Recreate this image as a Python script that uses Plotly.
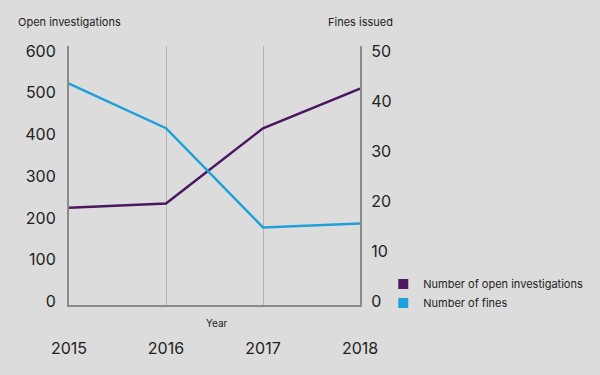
import plotly.graph_objects as go

years = [2015, 2016, 2017, 2018]
open_investigations = [225, 235, 415, 510]
fines_issued = [43.5, 34.6, 14.8, 15.6]
left_ticks = [0, 100, 200, 300, 400, 500, 600]
right_ticks = [0, 10, 20, 30, 40, 50]

PURPLE = "#4b1760"
BLUE = "#1ea0d8"
BG = "#dcdcdc"
AXIS = "#8a8a8a"
GRID = "#b4b4b4"
TXT = "#222222"
FONT = "Inter"

fig = go.Figure()
fig.add_trace(go.Scatter(x=years, y=open_investigations, mode="lines",
                         line=dict(color=PURPLE, width=2.5), showlegend=False, yaxis="y"))
fig.add_trace(go.Scatter(x=years, y=fines_issued, mode="lines",
                         line=dict(color=BLUE, width=2.5), showlegend=False, yaxis="y2"))
fig.add_trace(go.Scatter(x=[None], y=[None], mode="markers", name="Number of open investigations",
                         marker=dict(symbol="square", size=10, color=PURPLE)))
fig.add_trace(go.Scatter(x=[None], y=[None], mode="markers", name="Number of fines",
                         marker=dict(symbol="square", size=10, color=BLUE)))

fig.update_layout(
    width=600, height=375,
    margin=dict(l=69, r=240, t=46, b=70),
    paper_bgcolor=BG, plot_bgcolor=BG,
    font=dict(family=FONT, color=TXT),
    xaxis=dict(range=[2015, 2018], tickvals=years, ticktext=[str(y) for y in years],
               showgrid=True, gridcolor=GRID, gridwidth=1, zeroline=False,
               showline=True, linecolor=AXIS, linewidth=2, ticks="",
               tickfont=dict(size=16, color=TXT), ticklabelstandoff=28),
    yaxis=dict(range=[-8, 612], tickvals=left_ticks, showgrid=False, zeroline=False,
               showline=True, linecolor=AXIS, linewidth=2, ticks="",
               tickfont=dict(size=16, color=TXT), ticklabelstandoff=8),
    yaxis2=dict(range=[-8 / 12, 51], tickvals=right_ticks, overlaying="y", side="right",
                showgrid=False, zeroline=False, showline=True, linecolor=AXIS, linewidth=2,
                ticks="", tickfont=dict(size=16, color=TXT), ticklabelstandoff=6),
    legend=dict(x=1.08, y=0.137, xanchor="left", yanchor="top", bgcolor="rgba(0,0,0,0)",
                font=dict(size=11, color=TXT), tracegroupgap=0, itemwidth=30),
    annotations=[
        dict(text="Open investigations", x=0, y=1.093, xref="paper", yref="paper",
             xanchor="center", yanchor="middle", showarrow=False, font=dict(size=11, color=TXT)),
        dict(text="Fines issued", x=1, y=1.093, xref="paper", yref="paper",
             xanchor="center", yanchor="middle", showarrow=False, font=dict(size=11, color=TXT)),
        dict(text="Year", x=0.509, y=-0.0695, xref="paper", yref="paper",
             xanchor="center", yanchor="middle", showarrow=False, font=dict(size=10, color=TXT)),
    ],
)

fig.write_html("out.html", config={"displayModeBar": False},
               post_script="document.body.style.margin='0';document.body.style.overflow='hidden';")
